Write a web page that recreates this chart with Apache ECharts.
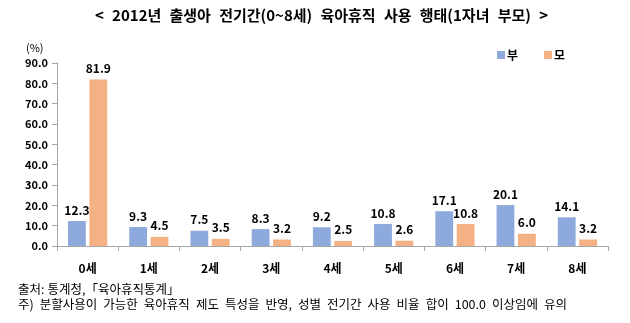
<!DOCTYPE html>
<html>
<head>
<meta charset="utf-8">
<script src="https://cdn.jsdelivr.net/npm/echarts@6/dist/echarts.min.js"></script>
<style>
  html, body { margin: 0; padding: 0; background: #fff; }
  #chart { width: 630px; height: 323px; }
</style>
</head>
<body>
<div id="chart"></div>
<script>
// 연령별 육아휴직 사용 비율 (%)
const categories = ['0세', '1세', '2세', '3세', '4세', '5세', '6세', '7세', '8세'];
const fatherValues = [12.3, 9.3, 7.5, 8.3, 9.2, 10.8, 17.1, 20.1, 14.1];
const motherValues = [81.9, 4.5, 3.5, 3.2, 2.5, 2.6, 10.8, 6.0, 3.2];
const seriesNames = ['부', '모'];

const titleText = '< 2012년 출생아 전기간(0~8세) 육아휴직 사용 행태(1자녀 부모) >';
const sourceText = '출처: 통계청,「육아휴직통계」';
const noteText = '주) 분할사용이 가능한 육아휴직 제도 특성을 반영, 성별 전기간 사용 비율 합이 100.0 이상임에 유의';

const FONT = '"Noto Sans CJK KR", "Noto Sans", sans-serif';

// Spread words so that a line fills a given width (wide word spacing).
const measureCtx = document.createElement('canvas').getContext('2d');
function spread(text, font, targetWidth) {
  const words = text.split(/\s+/).filter(Boolean);
  measureCtx.font = font;
  const used = words.reduce((s, w) => s + measureCtx.measureText(w).width, 0);
  const gap = Math.max(3, (targetWidth - used) / (words.length - 1));
  return { text: words.join('{s| }'), gap };
}

const TITLE_SIZE = 15;
const NOTE_SIZE = 12.5;
const titleSp = spread(titleText, 'bold ' + TITLE_SIZE + 'px ' + FONT, 453);
const noteSp = spread(noteText, NOTE_SIZE + 'px ' + FONT, 549);
const sourceSp = spread(sourceText, NOTE_SIZE + 'px ' + FONT, 154);

const chart = echarts.init(document.getElementById('chart'), null, { renderer: 'canvas' });

const labelStyle = {
  show: true,
  position: 'top',
  distance: 5,
  color: '#000',
  fontFamily: FONT,
  fontWeight: 'bold',
  fontSize: 12,
  formatter: p => p.value.toFixed(1)
};

const noteStyle = (gap) => ({
  fontFamily: FONT, fontSize: NOTE_SIZE, fontWeight: 'normal', color: '#000',
  rich: { s: { width: gap, fontFamily: FONT, fontSize: NOTE_SIZE } }
});

chart.setOption({
  animation: false,
  textStyle: { fontFamily: FONT },
  title: [
    {
      text: titleSp.text,
      left: 95,
      top: 8,
      padding: 0,
      textStyle: {
        fontFamily: FONT, fontSize: TITLE_SIZE, fontWeight: 'bold', color: '#000',
        rich: { s: { width: titleSp.gap, fontFamily: FONT, fontSize: TITLE_SIZE, fontWeight: 'bold' } }
      }
    },
    {
      text: '(%)',
      left: 21,
      top: 37,
      textStyle: { fontFamily: FONT, fontSize: 11, fontWeight: 'normal', color: '#000' }
    },
    {
      text: sourceSp.text,
      left: 18,
      top: 283,
      padding: 0,
      textStyle: noteStyle(sourceSp.gap)
    },
    {
      text: noteSp.text,
      left: 18,
      top: 298,
      padding: 0,
      textStyle: noteStyle(noteSp.gap)
    }
  ],
  legend: {
    data: seriesNames,
    left: 492,
    top: 44,
    itemWidth: 8,
    itemHeight: 8,
    itemGap: 26,
    icon: 'rect',
    textStyle: { fontFamily: FONT, fontSize: 12, fontWeight: 'bold', color: '#000', padding: [0, 0, 0, -3] }
  },
  grid: { left: 57, right: 22, top: 63, bottom: 77 },
  xAxis: {
    type: 'category',
    data: categories,
    axisLine: { lineStyle: { color: '#A6A6A6', width: 1 } },
    axisTick: { show: true, length: 5, lineStyle: { color: '#A6A6A6' } },
    axisLabel: { color: '#000', fontFamily: FONT, fontSize: 12, fontWeight: 'bold', margin: 16 }
  },
  yAxis: {
    type: 'value',
    min: 0,
    max: 90,
    interval: 10,
    axisLine: { show: true, lineStyle: { color: '#A6A6A6', width: 1 } },
    axisTick: { show: true, length: 5, lineStyle: { color: '#A6A6A6' } },
    splitLine: { show: false },
    axisLabel: {
      color: '#000',
      fontFamily: FONT,
      fontSize: 11,
      fontWeight: 'bold',
      margin: 9,
      formatter: v => v.toFixed(1)
    }
  },
  series: [
    {
      name: seriesNames[0],
      type: 'bar',
      data: fatherValues,
      barGap: '20%',
      barCategoryGap: '36%',
      itemStyle: { color: '#8EA9DB' },
      label: labelStyle
    },
    {
      name: seriesNames[1],
      type: 'bar',
      data: motherValues,
      itemStyle: { color: '#F4B183' },
      label: labelStyle
    }
  ]
});
</script>
</body>
</html>
